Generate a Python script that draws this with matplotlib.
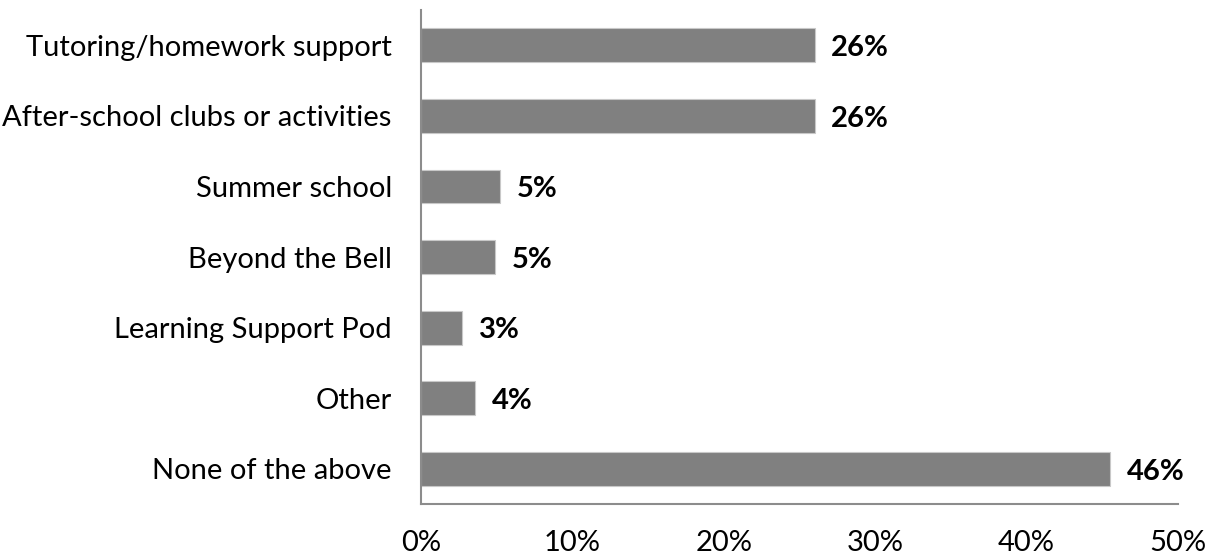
import matplotlib.pyplot as plt
from matplotlib.ticker import FuncFormatter

plt.rcParams['font.family'] = ['Lato', 'DejaVu Sans']

categories = ['Tutoring/homework support', 'After-school clubs or activities', 'Summer school',
              'Beyond the Bell', 'Learning Support Pod', 'Other', 'None of the above']
values = [26.0, 26.0, 5.2, 4.9, 2.7, 3.6, 45.5]
labels = ['26%', '26%', '5%', '5%', '3%', '4%', '46%']
xticks = [0, 10, 20, 30, 40, 50]

fig = plt.figure(figsize=(12.15, 5.59), dpi=100)
ax = fig.add_axes([0.3465, 0.0984, 0.623, 0.8836])

bars = ax.barh(categories, values, height=0.48, color='#808080', edgecolor='#c8c8c8', linewidth=0.8)
for bar, lab in zip(bars, labels):
    ax.text(bar.get_width() + 1.1, bar.get_y() + bar.get_height() / 2 + 0.04, lab,
            va='center', ha='left', fontsize=21, fontweight='bold', color='black')

ax.set_ylim(6.5, -0.5)
ax.set_xlim(0, 50)
ax.set_xticks(xticks)
ax.xaxis.set_major_formatter(FuncFormatter(lambda v, p: f'{v:.0f}%'))
ax.tick_params(axis='both', length=0, labelsize=21, colors='black')
ax.tick_params(axis='y', pad=21)
ax.tick_params(axis='x', pad=19)

for s in ['top', 'right']:
    ax.spines[s].set_visible(False)
for s in ['left', 'bottom']:
    ax.spines[s].set_color('#8c8c8c')
    ax.spines[s].set_linewidth(1.5)

fig.savefig('out.png', dpi=100)
